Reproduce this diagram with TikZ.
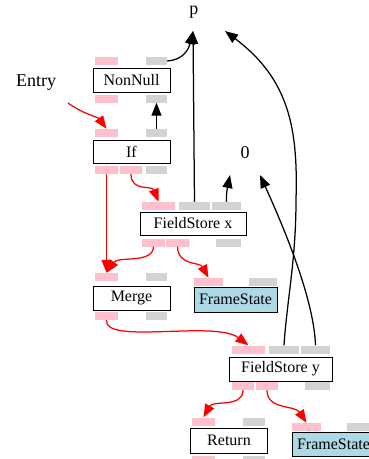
\documentclass[tikz,border=0pt]{standalone}
\usepackage{fontspec}
\setmainfont{Liberation Serif}
\usetikzlibrary{arrows.meta, calc}
\definecolor{portpink}{RGB}{255,192,203}
\definecolor{portgray}{RGB}{211,211,211}
\definecolor{statebox}{RGB}{173,216,230}

\begin{document}
\begin{tikzpicture}[
  x=1pt, y=-1pt,
  op/.style={
    rectangle, draw=black, line width=1pt, fill=white,
    inner sep=0pt, minimum height=24pt,
    font=\fontsize{16}{18}\selectfont
  },
  framestate/.style={op, fill=statebox},
  ctrl/.style={rectangle, fill=portpink, inner sep=0pt, minimum height=8pt},
  data/.style={rectangle, fill=portgray, inner sep=0pt, minimum height=8pt},
  lbl/.style={font=\fontsize{18}{20}\selectfont, inner sep=0pt},
  arrow/.style={-{Triangle[length=13pt, width=10pt]}, line width=1.25pt},
  carrow/.style={arrow, draw=red}
]
\useasboundingbox (0,0) rectangle (369,459);

% ---- Free labels ----
\node[lbl] (p)     at (194,12.5) {p};
\node[lbl] (zero)  at (245,153)  {0};
\node[lbl] (entry) at (36,83)    {Entry};
\coordinate (p-w)       at (193,31);
\coordinate (p-e)       at (225,31);
\coordinate (zero-w)    at (230,175);
\coordinate (zero-e)    at (260,175);
\coordinate (entry-out) at (68,103);

% ---- Operation boxes ----
\node[op, minimum width=77pt] (nonnull) at (131.5,80.5) {NonNull};
\node[op, minimum width=77pt, minimum height=23pt] (ifnode) at (131.5,151.5) {If};
\node[op, minimum width=106pt, minimum height=23pt] (fsx) at (193,223.5) {FieldStore x};
\node[op, minimum width=77pt] (merge) at (131.5,298) {Merge};
\node[framestate, minimum width=83pt, minimum height=25pt] (state1) at (235.5,299.5) {FrameState};
\node[op, minimum width=103pt] (fsy) at (280.5,369) {FieldStore y};
\node[op, minimum width=77pt, minimum height=25pt] (ret) at (229,440.5) {Return};
\node[framestate, minimum width=83pt] (state2) at (333.5,444) {FrameState};

% ---- Ports (pink = control, gray = data) ----
\foreach \n/\s/\x/\y/\w in {
    nnT1/ctrl/106.5/61/23, nnT2/data/156.5/61/21,
    nnB1/ctrl/106.5/98.5/23, nnB2/data/156.5/98.5/21,
    ifT1/ctrl/106.5/133/23, ifT2/data/156.5/133/21,
    ifB1/ctrl/106.5/170/23, ifB2/ctrl/131/170/22, ifB3/data/156.5/170/21,
    fxT1/ctrl/158.5/206/33, fxT2/data/194.5/206/31, fxT3/data/226.5/206/29,
    fxB1/ctrl/153.5/242.5/23, fxB2/ctrl/177.5/242.5/23, fxB3/data/228.5/242.5/25,
    mgT1/ctrl/106.5/277/23, mgT2/data/156.5/277/21,
    mgB1/ctrl/106.5/316/23, mgB2/data/156.5/316/21,
    s1T1/ctrl/208.5/282/29, s1T2/data/263/282/28,
    fyT1/ctrl/248.5/349.5/33, fyT2/data/284/349.5/30, fyT3/data/315.5/349.5/29,
    fyB1/ctrl/243/386/22, fyB2/ctrl/267/386/22, fyB3/data/317.5/386/25,
    rtT1/ctrl/203.5/421.5/23, rtT2/data/254/421.5/22,
    rtB1/ctrl/203.5/460/23, rtB2/data/254/460/22,
    s2T1/ctrl/306.5/427/29, s2T2/data/361/427/29}{
  \node[\s, minimum width=\w pt] (\n) at (\x,\y) {};
}

% ---- Data edges ----
\draw[arrow] (nnT2.east) .. controls (181,60) and (188,52) .. (p-w);
\draw[arrow] (fxT2.north) -- (p-w);
\draw[arrow] (fxT3.north) .. controls (226,192) and (228,185) .. (zero-w);
\draw[arrow] (fyT2.north) .. controls (287,300) and (296,260) .. (296,200)
  .. controls (298,130) and (290,80) .. (p-e);
\draw[arrow] (fyT3.north) .. controls (314,300) and (285,230) .. (zero-e);
\draw[arrow] (ifT2.north) -- (nnB2.south);

% ---- Control edges ----
\draw[carrow] (entry-out) .. controls (85,115) and (98,117) .. (ifT1.north);
\draw[carrow] (ifB1.south) -- (mgT1.north);
\draw[carrow] (ifB2.south) .. controls (131,192) and (152,185) .. (fxT1.north);
\draw[carrow] (fxB1.south) .. controls (153,264) and (118,256) .. (mgT1.north);
\draw[carrow] (fxB2.south) .. controls (178,266) and (200,262) .. (s1T1.north);
\draw[carrow] (mgB1.south) .. controls (104,345) and (215,320) .. (fyT1.north);
\draw[carrow] (fyB1.south) .. controls (243,408) and (213,400) .. (rtT1.north);
\draw[carrow] (fyB2.south) .. controls (267,410) and (295,405) .. (s2T1.north);

\end{tikzpicture}
\end{document}
